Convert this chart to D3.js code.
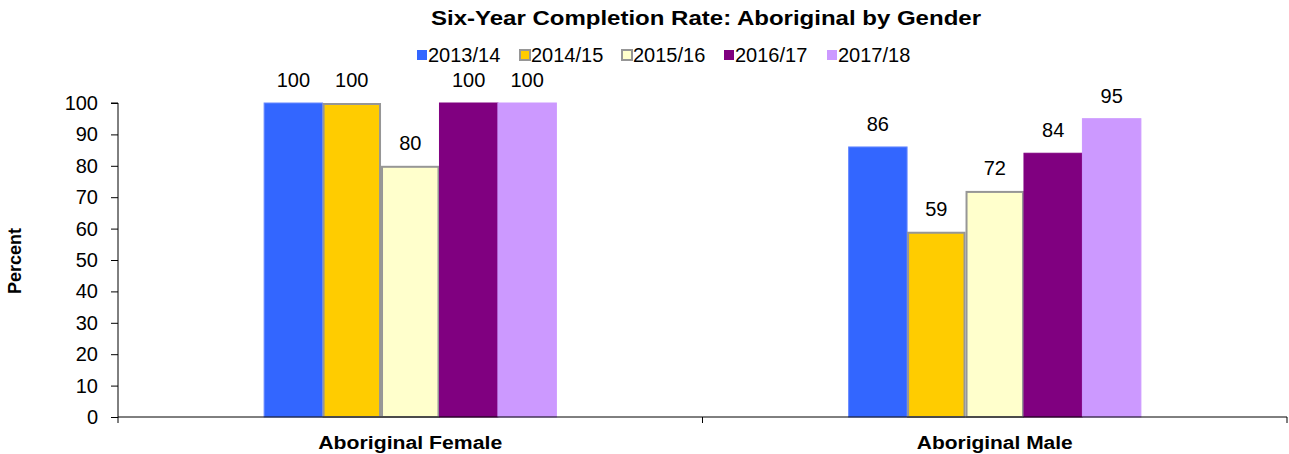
<!DOCTYPE html>
<html>
<head>
<meta charset="utf-8">
<script src="https://cdn.jsdelivr.net/npm/d3@7"></script>
<style>
  body { margin: 0; background: #fff; }
  text { font-family: Arial, "Liberation Sans", sans-serif; }
</style>
</head>
<body>
<script>
var categories = ["Aboriginal Female", "Aboriginal Male"];
var years = ["2013/14", "2014/15", "2015/16", "2016/17", "2017/18"];
var female = [100, 100, 80, 100, 100];
var male = [86, 59, 72, 84, 95];
var yTicks = [0, 10, 20, 30, 40, 50, 60, 70, 80, 90, 100];

var fills = ["#3366ff", "#ffcc00", "#ffffcc", "#800080", "#cc99ff"];
var strokes = ["#6688ff", "#969696", "#969696", "#800080", "#cc99ff"];

var width = 1289, height = 454;
var margin = {top: 103, right: 2, bottom: 37, left: 118};

var svg = d3.select("body").append("svg")
    .attr("width", width).attr("height", height);

var x0 = d3.scaleBand().domain(categories)
    .range([margin.left, width - margin.right]);
var x1 = d3.scaleBand().domain(years)
    .range([0, x0.bandwidth() * 0.5]);
var y = d3.scaleLinear().domain([0, 100])
    .range([height - margin.bottom, margin.top]);

var data = categories.map(function(c, i) {
  var vals = i == 0 ? female : male;
  return {cat: c, values: years.map(function(yr, j) { return {year: yr, idx: j, v: vals[j]}; })};
});

// title
svg.append("text").attr("x", 706).attr("y", 25)
    .attr("text-anchor", "middle").attr("font-size", 21).attr("font-weight", "bold")
    .attr("textLength", 550).attr("lengthAdjust", "spacingAndGlyphs")
    .text("Six-Year Completion Rate: Aboriginal by Gender");

// legend
var legX = [416, 519, 621, 723, 826];
var leg = svg.selectAll(".leg").data(years).enter().append("g")
    .attr("transform", function(d, i) { return "translate(" + legX[i] + ",49)"; });
leg.append("rect").attr("x", 1).attr("y", 1).attr("width", 10).attr("height", 10)
    .attr("fill", function(d, i) { return fills[i]; })
    .attr("stroke", function(d, i) { return (i == 1 || i == 2) ? "#969696" : "none"; })
    .attr("stroke-width", 2);
leg.append("text").attr("x", 12).attr("y", 13).attr("font-size", 20)
    .text(function(d) { return d; });

// bars
var groups = svg.selectAll(".grp").data(data).enter().append("g")
    .attr("transform", function(d) { return "translate(" + (x0(d.cat) + x0.bandwidth() * 0.25) + ",0)"; });

groups.selectAll("rect").data(function(d) { return d.values; }).enter().append("rect")
    .attr("x", function(d) { return x1(d.year) + ((d.idx == 1 || d.idx == 2) ? 1 : 0); })
    .attr("y", function(d) { return y(d.v) + ((d.idx == 1 || d.idx == 2) ? 1 : 0); })
    .attr("width", function(d) { return x1.bandwidth() - ((d.idx == 1 || d.idx == 2) ? 2 : 0); })
    .attr("height", function(d) { return y(0) - y(d.v) - ((d.idx == 1 || d.idx == 2) ? 1 : 0); })
    .attr("fill", function(d) { return fills[d.idx]; })
    .attr("stroke", function(d) { return strokes[d.idx]; })
    .attr("stroke-width", function(d) { return (d.idx == 1 || d.idx == 2) ? 2 : 1; });

groups.selectAll(".lbl").data(function(d) { return d.values; }).enter().append("text")
    .attr("x", function(d) { return x1(d.year) + x1.bandwidth() / 2; })
    .attr("y", function(d) { return y(d.v) - 16; })
    .attr("text-anchor", "middle").attr("font-size", 20)
    .text(function(d) { return d.v; });

// y axis
var yAxis = svg.append("g").attr("transform", "translate(" + margin.left + ",0)")
    .call(d3.axisLeft(y).tickValues(yTicks).tickSize(7).tickPadding(13));
yAxis.selectAll("text").attr("font-size", 20).attr("fill", "#000").attr("font-family", "Arial, 'Liberation Sans', sans-serif");
yAxis.selectAll("line").attr("stroke", "#000");
yAxis.select(".domain").attr("d", "M-7," + y(100) + "H0V" + y(0));

// x axis
var xb = svg.append("g").attr("transform", "translate(0," + y(0) + ")");
xb.append("line").attr("x1", margin.left).attr("x2", width - margin.right)
    .attr("stroke", "#000");
var xTicks = [x0(categories[0]), x0(categories[1]), x0(categories[1]) + x0.bandwidth()];
xb.selectAll(".xt").data(xTicks).enter().append("line")
    .attr("x1", function(d) { return d; }).attr("x2", function(d) { return d; })
    .attr("y1", 0).attr("y2", 6).attr("stroke", "#000");
xb.selectAll(".xl").data(categories).enter().append("text")
    .attr("x", function(d) { return x0(d) + x0.bandwidth() / 2; })
    .attr("y", 32).attr("text-anchor", "middle")
    .attr("font-size", 18).attr("font-weight", "bold")
    .attr("textLength", function(d, i) { return i == 0 ? 184 : 156; })
    .attr("lengthAdjust", "spacingAndGlyphs")
    .text(function(d) { return d; });

// y label
svg.append("text").attr("transform", "translate(21,261) rotate(-90)")
    .attr("text-anchor", "middle").attr("font-size", 18).attr("font-weight", "bold")
    .text("Percent");
</script>
</body>
</html>
